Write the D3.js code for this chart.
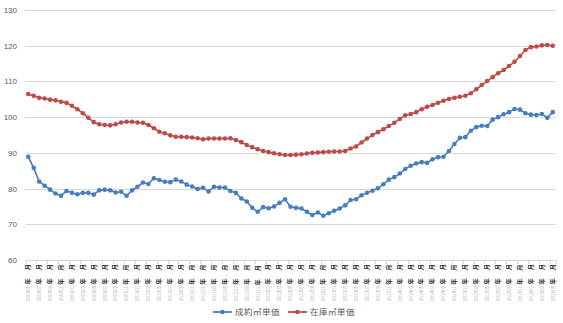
<!DOCTYPE html>
<html><head><meta charset="utf-8">
<script src="https://cdn.jsdelivr.net/npm/d3@7"></script>
<style>
html,body{margin:0;padding:0;background:#fff;}
svg{display:block;font-family:"Noto Sans CJK JP","Noto Sans",sans-serif;}
</style></head>
<body>
<svg id="chart" width="563" height="323"></svg>
<script>
// ---- data ----
const startYear = 2008, startMonth = 5, monthCount = 97;
const months = [];
for (let i = 0; i < monthCount; i++) {
  const m = startMonth - 1 + i;
  const y = startYear + Math.floor(m / 12);
  const mm = (m % 12) + 1;
  months.push(`${y}${String(mm).padStart(2, "0")}`);
}
const seriesNames = ["成約㎡単価", "在庫㎡単価"];
const contractPrice = [
  88.9, 85.8, 82.0, 80.8, 79.7, 78.6, 78.0, 79.3, 78.8, 78.4,
  78.8, 78.8, 78.3, 79.5, 79.7, 79.5, 78.9, 79.1, 78.0, 79.5,
  80.5, 81.7, 81.3, 82.9, 82.4, 81.9, 81.8, 82.5, 82.0, 81.1,
  80.6, 79.9, 80.2, 79.2, 80.5, 80.3, 80.3, 79.3, 78.8, 77.2,
  76.4, 74.6, 73.5, 74.8, 74.5, 75.0, 76.0, 77.0, 74.9, 74.6,
  74.4, 73.5, 72.6, 73.3, 72.4, 73.1, 73.8, 74.4, 75.3, 76.8,
  77.0, 78.1, 78.8, 79.4, 80.1, 81.2, 82.5, 83.2, 84.2, 85.5,
  86.4, 87.0, 87.4, 87.2, 88.2, 88.8, 88.9, 90.5, 92.5, 94.2,
  94.4, 96.2, 97.2, 97.6, 97.5, 99.3, 100.0, 100.8, 101.4, 102.3,
  102.1, 101.1, 100.7, 100.6, 100.9, 99.8, 101.4
];
const stockPrice = [
  106.5, 106.0, 105.4, 105.2, 104.9, 104.7, 104.3, 104.0, 103.2, 102.2,
  101.1, 99.8, 98.6, 98.0, 97.8, 97.7, 98.0, 98.5, 98.7, 98.7,
  98.5, 98.4, 97.8, 96.9, 95.9, 95.5, 94.9, 94.5, 94.5, 94.4,
  94.3, 94.1, 93.8, 94.0, 94.0, 94.0, 94.0, 94.1, 93.6, 93.0,
  92.2, 91.6, 91.0, 90.5, 90.2, 89.9, 89.6, 89.4, 89.4, 89.5,
  89.6, 89.8, 90.0, 90.1, 90.2, 90.3, 90.4, 90.4, 90.5, 91.2,
  91.8, 92.9, 94.0, 95.0, 95.8, 96.6, 97.5, 98.4, 99.5, 100.5,
  100.9, 101.4, 102.2, 102.9, 103.4, 104.0, 104.6, 105.1, 105.4, 105.7,
  106.0, 106.7, 107.8, 109.0, 110.1, 111.2, 112.3, 113.2, 114.3, 115.5,
  117.1, 118.8, 119.6, 119.8, 120.1, 120.2, 120.0
];
const yTicks = [60, 70, 80, 90, 100, 110, 120, 130];
const colors = ["#4a7ebb", "#be4b48"];

// ---- layout ----
const svg = d3.select("#chart");
const plotLeft = 25.5, plotRight = 555.5, plotTop = 10, plotBottom = 260;

const x = d3.scaleBand().domain(months).range([plotLeft, plotRight]).paddingInner(0).paddingOuter(0);
const cx = d => x(d) + x.bandwidth() / 2;
const y = d3.scaleLinear().domain([60, 130]).range([plotBottom, plotTop]);

// gridlines
svg.append("g").selectAll("line").data(yTicks.slice(1)).join("line")
  .attr("x1", plotLeft).attr("x2", plotRight)
  .attr("y1", d => Math.round(y(d)) + 0.5).attr("y2", d => Math.round(y(d)) + 0.5)
  .attr("stroke", "#d9d9d9").attr("stroke-width", 1);

// y axis labels
const yAxis = d3.axisLeft(y).tickValues(yTicks).tickSize(0).tickPadding(0);
const gy = svg.append("g").attr("transform", `translate(17,0)`).call(yAxis);
gy.select(".domain").remove();
gy.selectAll("text").attr("fill", "#595959").style("font-family", "'Liberation Sans',Arial,sans-serif")
  .style("font-size", "8px").attr("x", 0).attr("dy", "0.32em");

// x axis
const labelMonths = months.filter((d, i) => i % 2 === 0);
const boundaries = months.filter((d, i) => i % 2 === 0).map(d => x(d)).concat([plotRight]);
svg.append("line").attr("x1", plotLeft).attr("x2", plotRight)
  .attr("y1", plotBottom + 0.5).attr("y2", plotBottom + 0.5).attr("stroke", "#d9d9d9");
svg.append("g").selectAll("line").data(boundaries).join("line")
  .attr("x1", d => Math.round(d) + 0.5).attr("x2", d => Math.round(d) + 0.5)
  .attr("y1", plotBottom).attr("y2", plotBottom + 4).attr("stroke", "#d9d9d9");

const lbl = svg.append("g").selectAll("text").data(labelMonths).join("text")
  .attr("transform", d => `translate(${cx(d) + 1.8},301) rotate(-90)`)
  .attr("text-anchor", "start");
lbl.append("tspan").text(d => d).attr("fill", "#b3b3b3")
  .style("font-family", "'Liberation Sans',Arial,sans-serif").style("font-size", "4.6px");
lbl.append("tspan").text("年").attr("dx", 1.2).attr("fill", "#333").style("font-size", "6.2px").attr("font-weight", "bold");
lbl.append("tspan").text("月").attr("dx", 8).attr("fill", "#333").style("font-size", "6.2px").attr("font-weight", "bold");

// lines
const series = [contractPrice, stockPrice];
const line = d3.line().x((d, i) => cx(months[i])).y(d => y(d));
series.forEach((vals, si) => {
  const g = svg.append("g");
  g.append("path").datum(vals).attr("d", line).attr("fill", "none")
    .attr("stroke", colors[si]).attr("stroke-width", 1.6).attr("stroke-linejoin", "round");
  g.selectAll("circle").data(vals).join("circle")
    .attr("cx", (d, i) => cx(months[i])).attr("cy", d => y(d)).attr("r", 2.3)
    .attr("fill", colors[si]);
});

// legend
const legendItems = [{x: 213, name: seriesNames[0], c: colors[0]}, {x: 288, name: seriesNames[1], c: colors[1]}];
const lg = svg.append("g").selectAll("g").data(legendItems).join("g")
  .attr("transform", d => `translate(${d.x},312)`);
lg.append("line").attr("x1", 0).attr("x2", 19).attr("y1", 0).attr("y2", 0)
  .attr("stroke", d => d.c).attr("stroke-width", 1.8);
lg.append("circle").attr("cx", 9.5).attr("cy", 0).attr("r", 2.3).attr("fill", d => d.c);
lg.append("text").attr("x", 22).attr("y", 0).attr("dy", "0.35em")
  .text(d => d.name).attr("fill", "#595959").style("font-size", "8.5px").style("letter-spacing", "0.5px");
</script>
</body></html>
